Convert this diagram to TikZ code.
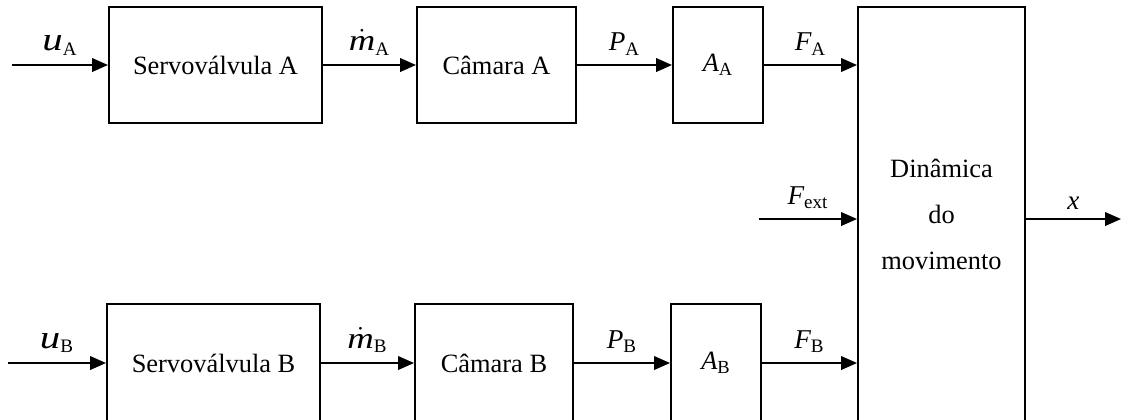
\documentclass[tikz,border=0pt]{standalone}
\usepackage{fontspec}
\setmainfont{Liberation Serif}
\usetikzlibrary{arrows.meta}

\newcommand{\sig}[2]{$\mathit{#1}_{\mathrm{#2}}$}
% wide italic letters for the inputs and flows
\newcommand{\wideu}{\scalebox{1.5}[1.2]{$\mathit{u}$}}
\newcommand{\widem}{\scalebox{1.35}[1.1]{$\mathit{m}$}}

\begin{document}
\begin{tikzpicture}[x=0.5pt,y=-0.5pt,line width=1pt,
    every node/.style={font=\fontsize{13.2}{23}\selectfont},
    blk/.style={draw,line width=1pt,minimum height=58pt,inner sep=0pt,align=center},
    sigarrow/.style={-{Triangle[length=8pt,width=6.8pt]}},
    lbl/.style={above,inner sep=4.5pt,font=\fontsize{13.6}{16}\selectfont}]
    \useasboundingbox (0,0) rectangle (1122,419);

    % upper chain (chamber A)
    \node[blk,minimum width=106.5pt] (sva) at (215.5,65) {Servov\'alvula A};
    \node[blk,minimum width=79.5pt] (cha) at (496.5,65) {C\^amara A};
    \node[blk,minimum width=45pt] (ara) at (718,65) {\sig{A}{A}};

    % lower chain (chamber B)
    \node[blk,minimum width=106.5pt,minimum height=59pt] (svb) at (213.5,363) {Servov\'alvula B};
    \node[blk,minimum width=79pt,minimum height=59pt] (chb) at (494,363) {C\^amara B};
    \node[blk,minimum width=45pt,minimum height=59pt] (arb) at (716,363) {\sig{A}{B}};

    % the motion block
    \node[blk,minimum width=83.5pt,minimum height=207.5pt] (dyn) at (941.5,214.5) {Din\^amica\\do\\movimento};

    % free ends
    \coordinate (ina) at (12,65);
    \coordinate (inb) at (8,363);
    \coordinate (fext) at (759,219);
    \coordinate (out) at (1121,219);

    % the arrows and labels
    \draw[sigarrow] (ina) -- (sva.west) node[lbl,midway] {$\wideu_{\mathrm{A}}$};
    \draw[sigarrow] (sva.east) -- (cha.west) node[lbl,midway] {$\dot{\widem}_{\mathrm{A}}$};
    \draw[sigarrow] (cha.east) -- (ara.west) node[lbl,midway] {\sig{P}{A}};
    \draw[sigarrow] (ara.east) -- (ara.east -| dyn.west) node[lbl,midway] {\sig{F}{A}};

    \draw[sigarrow] (inb) -- (svb.west) node[lbl,midway] {$\wideu_{\mathrm{B}}$};
    \draw[sigarrow] (svb.east) -- (chb.west) node[lbl,midway] {$\dot{\widem}_{\mathrm{B}}$};
    \draw[sigarrow] (chb.east) -- (arb.west) node[lbl,midway] {\sig{P}{B}};
    \draw[sigarrow] (arb.east) -- (arb.east -| dyn.west) node[lbl,midway] {\sig{F}{B}};

    \draw[sigarrow] (fext) -- (fext -| dyn.west) node[lbl,midway] {\sig{F}{ext}};
    \draw[sigarrow] (dyn.east |- out) -- (out) node[lbl,midway] {$\mathit{x}$};
\end{tikzpicture}
\end{document}
